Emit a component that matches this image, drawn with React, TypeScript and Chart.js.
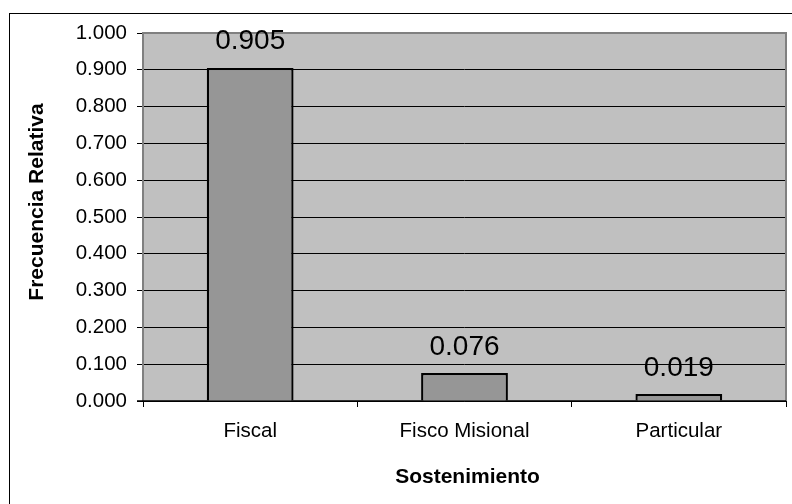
import React, { useEffect, useRef } from "react";
import { Chart, registerables } from "chart.js";

Chart.register(...registerables);

const categories = ["Fiscal", "Fisco Misional", "Particular"];
const values = [0.905, 0.076, 0.019];
const yTitle = "Frecuencia Relativa";
const xTitle = "Sostenimiento";

const FONT = "'Liberation Sans', Arial, sans-serif";

const framePlugin = {
  id: "framePlugin",
  beforeDraw(chart: any) {
    const { ctx, chartArea } = chart;
    ctx.save();
    ctx.fillStyle = "#ffffff";
    ctx.fillRect(0, 0, chart.width, chart.height);
    ctx.strokeStyle = "#000000";
    ctx.lineWidth = 1;
    ctx.strokeRect(9.5, 13.5, 900, 700);
    ctx.fillStyle = "#C0C0C0";
    ctx.fillRect(chartArea.left, chartArea.top, chartArea.right - chartArea.left, chartArea.bottom - chartArea.top);
    ctx.restore();
  },
  beforeDatasetsDraw(chart: any) {
    const { ctx, chartArea } = chart;
    const { left, right, top, bottom } = chartArea;
    ctx.save();
    ctx.strokeStyle = "#808080";
    ctx.lineWidth = 2;
    ctx.beginPath();
    ctx.moveTo(left, bottom);
    ctx.lineTo(left, top);
    ctx.lineTo(right, top);
    ctx.lineTo(right, bottom);
    ctx.stroke();
    ctx.strokeStyle = "#000000";
    ctx.lineWidth = 1.5;
    ctx.beginPath();
    ctx.moveTo(left - 6, bottom);
    ctx.lineTo(right, bottom);
    ctx.stroke();
    ctx.restore();
  },
  afterDatasetsDraw(chart: any) {
    const { ctx } = chart;
    const meta = chart.getDatasetMeta(0);
    ctx.save();
    ctx.font = `28px ${FONT}`;
    ctx.fillStyle = "#000000";
    ctx.textAlign = "center";
    ctx.textBaseline = "alphabetic";
    meta.data.forEach((bar: any, i: number) => {
      const v = chart.data.datasets[0].data[i] as number;
      ctx.fillText(v.toFixed(3), bar.x, bar.y - 18.5);
    });
    // axis titles
    ctx.font = `bold 21px ${FONT}`;
    ctx.textBaseline = "middle";
    ctx.textAlign = "center";
    ctx.fillText(xTitle, 467.5, 477);
    ctx.translate(37.5, 202);
    ctx.rotate(-Math.PI / 2);
    ctx.fillText(yTitle, 0, 0);
    ctx.restore();
  },
};

export default function App() {
  const ref = useRef<HTMLCanvasElement | null>(null);
  useEffect(() => {
    if (!ref.current) return;
    const chart = new Chart(ref.current, {
      type: "bar",
      data: {
        labels: categories,
        datasets: [
          {
            data: values,
            backgroundColor: "#969696",
            borderColor: "#000000",
            borderWidth: 2.3,
            categoryPercentage: 1,
            barPercentage: 0.405,
          },
        ],
      },
      options: {
        animation: false,
        responsive: false,
        maintainAspectRatio: false,
        layout: { padding: { left: 0, top: 33, right: 6, bottom: 0 } },
        plugins: { legend: { display: false }, tooltip: { enabled: false } },
        scales: {
          x: {
            offset: true,
            grid: { display: true, drawOnChartArea: false, drawTicks: true, tickLength: 6, color: "#000000", offset: true },
            border: { display: false },
            ticks: { color: "#000000", font: { family: FONT, size: 20.5 }, padding: 12, maxRotation: 0 },
            afterFit(scale: any) {
              scale.height = 103;
            },
          },
          y: {
            min: 0,
            max: 1,
            grid: { color: "#000000", lineWidth: 1, tickLength: 6, drawTicks: true },
            border: { display: false },
            ticks: {
              stepSize: 0.1,
              color: "#000000",
              font: { family: FONT, size: 20.5 },
              padding: 10,
              callback: (v: any) => Number(v).toFixed(3),
            },
            afterFit(scale: any) {
              scale.width = 143;
            },
          },
        },
      },
      plugins: [framePlugin],
    } as any);
    return () => chart.destroy();
  }, []);
  return (
    <div style={{ position: "fixed", left: 0, top: 0, width: 792, height: 504, background: "#fff" }}>
      <canvas ref={ref} width={792} height={504} style={{ display: "block" }} />
    </div>
  );
}
